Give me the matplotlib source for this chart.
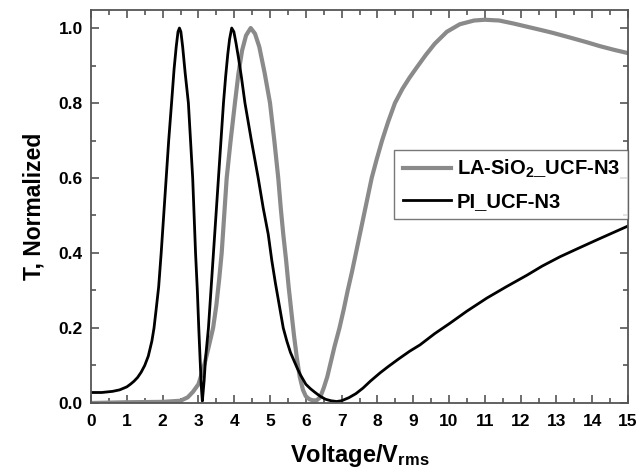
import matplotlib
matplotlib.use("Agg")
import matplotlib.pyplot as plt
from matplotlib.ticker import MultipleLocator, FormatStrFormatter

plt.rcParams['font.family'] = ['Liberation Sans', 'DejaVu Sans']
plt.rcParams['font.weight'] = 'bold'
plt.rcParams['mathtext.fontset'] = 'custom'
plt.rcParams['mathtext.rm'] = 'Liberation Sans:bold'
plt.rcParams['mathtext.bf'] = 'Liberation Sans:bold'
plt.rcParams['mathtext.it'] = 'Liberation Sans:bold'
plt.rcParams['mathtext.default'] = 'bf'

# PI_UCF-N3 (black)
pi_v = [0, 0.3, 0.6, 0.8, 1.0, 1.1, 1.2, 1.3, 1.4, 1.5, 1.6, 1.7, 1.76, 1.82, 1.89, 1.96,
        2.03, 2.10, 2.17, 2.25, 2.32, 2.38, 2.43, 2.47, 2.51, 2.56, 2.63, 2.72, 2.78, 2.84,
        2.88, 2.92, 2.97, 3.01, 3.05, 3.08, 3.11, 3.16, 3.2, 3.28, 3.35, 3.42, 3.49, 3.56,
        3.63, 3.70, 3.76, 3.82, 3.87, 3.93, 3.99, 4.05, 4.12, 4.2, 4.3, 4.48, 4.67, 4.81,
        4.95, 5.05, 5.15, 5.26, 5.37, 5.47, 5.57, 5.66, 5.75, 5.85, 6.0, 6.13, 6.26, 6.4,
        6.55, 6.7, 6.86, 7.0, 7.2, 7.4, 7.6, 7.8, 8.07, 8.3, 8.6, 8.9, 9.19, 9.6, 10.03,
        10.5, 11.06, 11.6, 12.18, 12.6, 13.1, 13.6, 14.13, 14.6, 15.0]
pi_t = [0.028, 0.028, 0.031, 0.035, 0.043, 0.05, 0.058, 0.068, 0.082, 0.1, 0.125, 0.165, 0.2, 0.25, 0.31, 0.4,
        0.5, 0.6, 0.7, 0.8, 0.89, 0.95, 0.99, 1.0, 0.99, 0.95, 0.88, 0.8, 0.7, 0.6,
        0.5, 0.4, 0.3, 0.2, 0.11, 0.045, 0.005, 0.06, 0.12, 0.2, 0.3, 0.4, 0.5, 0.6,
        0.7, 0.8, 0.87, 0.93, 0.97, 1.0, 0.99, 0.96, 0.92, 0.87, 0.8, 0.7, 0.6, 0.52,
        0.45, 0.38, 0.32, 0.26, 0.2, 0.165, 0.135, 0.115, 0.095, 0.075, 0.05, 0.038, 0.028, 0.018,
        0.01, 0.006, 0.004, 0.006, 0.014, 0.025, 0.04, 0.058, 0.08, 0.097, 0.118, 0.138, 0.155, 0.185, 0.213,
        0.245, 0.28, 0.31, 0.341, 0.365, 0.39, 0.412, 0.435, 0.455, 0.472]

# LA-SiO2_UCF-N3 (grey)
la_v = [0, 1.0, 2.0, 2.5, 2.7, 2.85, 3.0, 3.1, 3.2, 3.3, 3.41, 3.5, 3.58, 3.65, 3.72, 3.79,
        3.9, 4.02, 4.12, 4.22, 4.33, 4.46, 4.58, 4.7, 4.85, 5.0, 5.12, 5.23, 5.3, 5.37,
        5.45, 5.52, 5.6, 5.67, 5.75, 5.83, 5.92, 6.0, 6.1, 6.2, 6.3, 6.4, 6.5, 6.6, 6.7,
        6.8, 6.94, 7.06, 7.17, 7.29, 7.4, 7.51, 7.62, 7.73, 7.84, 7.98, 8.13, 8.3, 8.49,
        8.7, 8.9, 9.1, 9.35, 9.6, 9.94, 10.3, 10.7, 11.0, 11.4, 11.8, 12.2, 12.6, 12.9,
        13.4, 13.85, 14.2, 14.6, 15.0]
la_t = [0.0, 0.002, 0.003, 0.006, 0.015, 0.03, 0.05, 0.08, 0.115, 0.155, 0.2, 0.26, 0.33, 0.4, 0.5, 0.6,
        0.7, 0.8, 0.88, 0.94, 0.98, 1.0, 0.985, 0.95, 0.88, 0.8, 0.7, 0.6, 0.52, 0.45,
        0.38, 0.31, 0.24, 0.18, 0.12, 0.07, 0.035, 0.018, 0.01, 0.007, 0.007, 0.015, 0.04, 0.07, 0.11,
        0.15, 0.2, 0.25, 0.3, 0.35, 0.4, 0.45, 0.5, 0.55, 0.6, 0.65, 0.7, 0.75, 0.8,
        0.838, 0.868, 0.895, 0.928, 0.958, 0.99, 1.01, 1.02, 1.022, 1.02, 1.012, 1.003, 0.994, 0.987,
        0.974, 0.962, 0.952, 0.942, 0.933]

labels = [r'LA-SiO$_{2}$_UCF-N3', 'PI_UCF-N3']

fig = plt.figure(figsize=(6.4, 4.72), dpi=100)
ax = fig.add_axes([0.1422, 0.1462, 0.8391, 0.8326])

ax.plot(la_v, la_t, color='#8a8a8a', lw=3.0, label=labels[0])
ax.plot(pi_v, pi_t, color='black', lw=2.0, label=labels[1])

ax.set_xlim(0, 15)
ax.set_ylim(0, 1.048)
ax.xaxis.set_major_locator(MultipleLocator(1))
ax.xaxis.set_minor_locator(MultipleLocator(0.5))
ax.yaxis.set_major_locator(MultipleLocator(0.2))
ax.yaxis.set_minor_locator(MultipleLocator(0.1))
ax.yaxis.set_major_formatter(FormatStrFormatter('%.1f'))
ax.tick_params(which='both', direction='in', top=True, right=True, color='#555555', width=1.2)
ax.tick_params(which='major', length=6, labelsize=12.5, pad=6)
ax.tick_params(axis='x', which='major', pad=8)
ax.tick_params(which='minor', length=3.5)
for lab in ax.get_xticklabels() + ax.get_yticklabels():
    lab.set_fontweight('bold')
for s in ax.spines.values():
    s.set_color('#555555')
    s.set_linewidth(1.3)

ax.set_xlabel(r'Voltage/V$_{rms}$', fontsize=17, fontweight='bold', labelpad=9)
ax.set_ylabel('T, Normalized', fontsize=16.5, fontweight='bold', labelpad=9)

leg = ax.legend(loc='upper right', bbox_to_anchor=(1.0, 0.644), borderaxespad=0,
                fancybox=False, edgecolor='#555555', fontsize=14.5, handlelength=2.4,
                handletextpad=0.3, labelspacing=0.6, borderpad=0.4)
leg.get_frame().set_linewidth(1.0)
for t in leg.get_texts():
    t.set_fontweight('bold')

fig.savefig('out.png', dpi=100)
